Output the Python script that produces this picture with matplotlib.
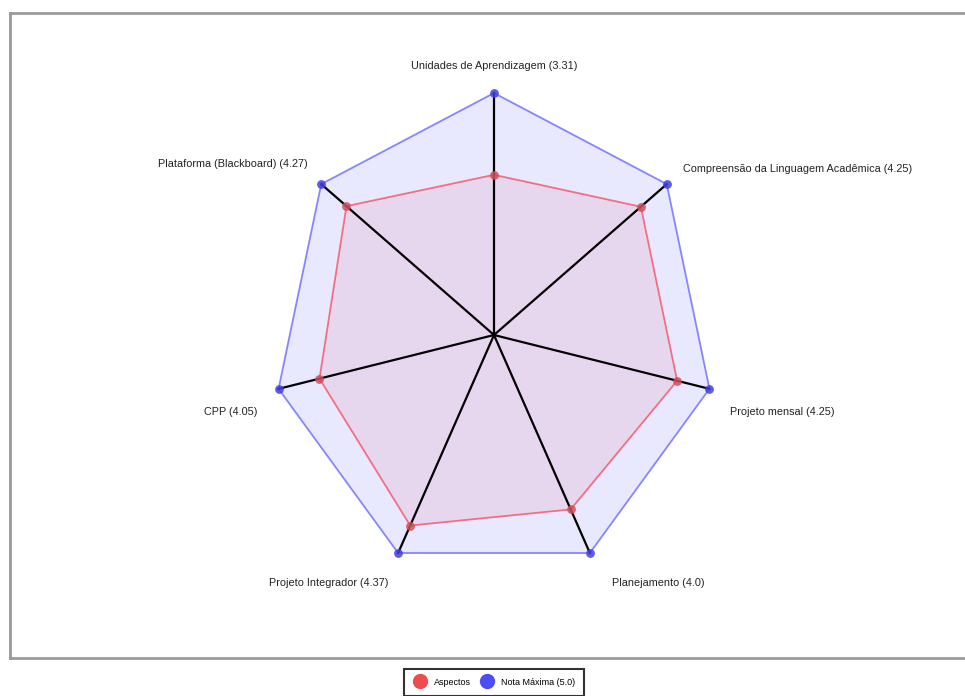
import numpy as np
import matplotlib
matplotlib.use("Agg")
import matplotlib.pyplot as plt
from matplotlib.lines import Line2D

categories = ["Unidades de Aprendizagem", "Compreensão da Linguagem Acadêmica",
              "Projeto mensal", "Planejamento", "Projeto Integrador", "CPP",
              "Plataforma (Blackboard)"]
aspect_values = [3.31, 4.25, 4.25, 4.0, 4.37, 4.05, 4.27]
max_value = 5.0
series_names = ["Aspectos", "Nota Máxima (5.0)"]

plt.rcParams['font.family'] = ['Liberation Sans', 'DejaVu Sans']

W, H = 965, 696
fig = plt.figure(figsize=(W / 100, H / 100), dpi=100)

# frame axes
left, top, bottom, right = 10, 13, 658, 975
ax = fig.add_axes([left / W, 1 - bottom / H, (right - left) / W, (bottom - top) / H])
cx, cy = 494, 335
sx, sy = 221 / 5, 242 / 5
ax.set_xlim((left - cx) / sx, (right - cx) / sx)
ax.set_ylim(-(bottom - cy) / sy, (cy - top) / sy)
ax.set_xticks([]); ax.set_yticks([])
for s in ax.spines.values():
    s.set_color("#999999"); s.set_linewidth(2)

n = len(categories)
ang = np.arange(n) * 2 * np.pi / n
ux, uy = np.sin(ang), np.cos(ang)

mx = max_value * ux; my = max_value * uy
ax_v = np.array(aspect_values)
rx = ax_v * ux; ry = ax_v * uy

def closed(a):
    return np.append(a, a[0])

ax.fill(mx, my, color=(0, 0, 1, 0.09), zorder=1, lw=0)
ax.plot(closed(mx), closed(my), color=(0.1, 0.1, 1, 0.5), lw=1.3, zorder=2)
ax.fill(rx, ry, color=(0.9, 0, 0.1, 0.07), zorder=2, lw=0)
ax.plot(closed(rx), closed(ry), color=(1, 0, 0.05, 0.5), lw=1.3, zorder=3)
for i in range(n):
    ax.plot([0, mx[i]], [0, my[i]], color="black", lw=1.6, zorder=4)
ax.scatter(mx, my, s=40, color=(0.25, 0.25, 0.88, 0.85), zorder=5, lw=0)
ax.scatter(rx, ry, s=40, color=(0.82, 0.3, 0.35, 0.85), zorder=5, lw=0)

# labels: pixel offsets from the max vertex
offsets = [(0, 27, 'center'), (16, 15, 'left'), (21, -23, 'left'), (22, -30, 'left'),
           (-10, -30, 'right'), (-21, -23, 'right'), (-14, 20, 'right')]
for i in range(n):
    dx, dy, ha = offsets[i]
    ax.annotate(f"{categories[i]} ({aspect_values[i]})", (mx[i], my[i]),
                xytext=(dx * 0.72, dy * 0.72), textcoords='offset points',
                ha=ha, va='center', fontsize=7.8, color="#222222", zorder=6)

handles = [Line2D([], [], ls='none', marker='o', ms=10, color=(0.93, 0.3, 0.3)),
           Line2D([], [], ls='none', marker='o', ms=10, color=(0.3, 0.3, 0.95))]
leg = fig.legend(handles, series_names, loc='upper center',
                 bbox_to_anchor=(494 / W, 1 - 664 / H), ncol=2, fontsize=6.5,
                 frameon=True, fancybox=False, edgecolor='black',
                 handletextpad=0.8, columnspacing=1.0, borderpad=1.0,
                 handlelength=1.5)
leg.get_frame().set_linewidth(1.5)

fig.savefig("out.png", dpi=100)
